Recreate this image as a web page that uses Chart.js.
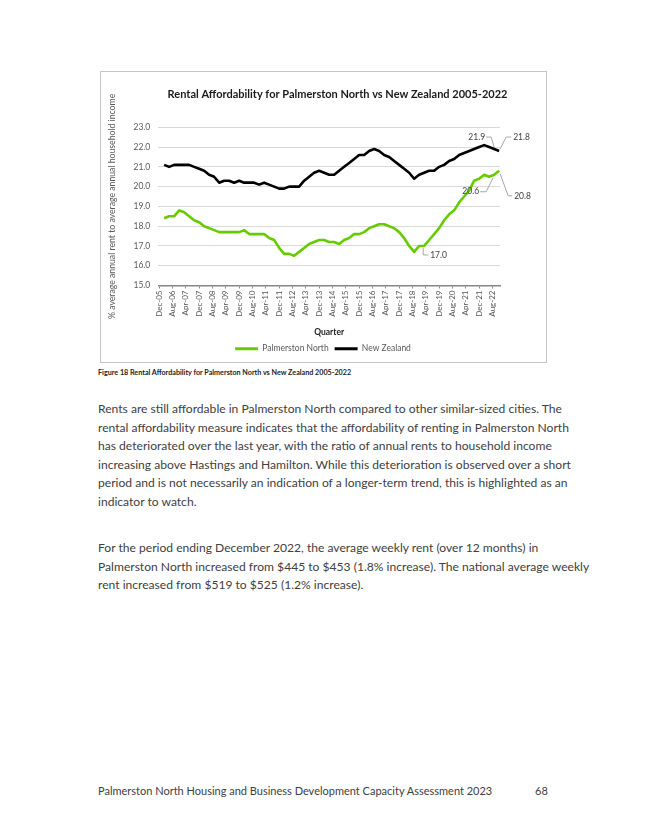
<!DOCTYPE html>
<html lang="en">
<head>
    <meta charset="UTF-8">
    <title>Rental Affordability for Palmerston North vs New Zealand 2005-2022</title>
    <script src="https://cdn.jsdelivr.net/npm/chart.js"></script>
    <style>
        html, body { margin: 0; padding: 0; background: #fff; }
        body { width: 645px; height: 834px; position: relative; overflow: hidden; font-family: Lato, "Open Sans", sans-serif; color: #404040; }
        #chartBox { position: absolute; left: 100px; top: 71px; width: 447px; height: 292px; box-sizing: border-box; border: 1px solid #c4c4c4; }
        #chartCanvas { position: absolute; left: 101px; top: 72px; }
        .caption { position: absolute; left: 98px; top: 368px; font-size: 7.2px; font-weight: bold; color: #222; white-space: nowrap; }
        .line { position: absolute; left: 98px; white-space: nowrap; font-size: 12.1px; line-height: 16px; }
        .footer { position: absolute; top: 782px; font-size: 11px; line-height: 18px; white-space: nowrap; }
    </style>
</head>
<body>
    <div id="chartBox"></div>
    <canvas id="chartCanvas" width="444" height="291"></canvas>

    <div class="caption">Figure 18 Rental Affordability for Palmerston North vs New Zealand 2005-2022</div>

    <div class="line" style="top:401px">Rents are still affordable in Palmerston North compared to other similar-sized cities. The</div>
    <div class="line" style="top:419.5px">rental affordability measure indicates that the affordability of renting in Palmerston North</div>
    <div class="line" style="top:438px">has deteriorated over the last year, with the ratio of annual rents to household income</div>
    <div class="line" style="top:456.5px">increasing above Hastings and Hamilton. While this deterioration is observed over a short</div>
    <div class="line" style="top:475px">period and is not necessarily an indication of a longer-term trend, this is highlighted as an</div>
    <div class="line" style="top:493.5px">indicator to watch.</div>

    <div class="line" style="top:540px">For the period ending December 2022, the average weekly rent (over 12 months) in</div>
    <div class="line" style="top:558.5px">Palmerston North increased from $445 to $453 (1.8% increase). The national average weekly</div>
    <div class="line" style="top:577px">rent increased from $519 to $525 (1.2% increase).</div>

    <div class="footer" style="left:98px">Palmerston North Housing and Business Development Capacity Assessment 2023</div>
    <div class="footer" style="left:535px">68</div>

    <script>
        // quarters shown on the chart (Mar-06 .. Dec-22)
        const quarterLabels = [
            'Mar-06', 'Jun-06', 'Sep-06', 'Dec-06', 'Mar-07', 'Jun-07', 'Sep-07', 'Dec-07',
            'Mar-08', 'Jun-08', 'Sep-08', 'Dec-08', 'Mar-09', 'Jun-09', 'Sep-09', 'Dec-09',
            'Mar-10', 'Jun-10', 'Sep-10', 'Dec-10', 'Mar-11', 'Jun-11', 'Sep-11', 'Dec-11',
            'Mar-12', 'Jun-12', 'Sep-12', 'Dec-12', 'Mar-13', 'Jun-13', 'Sep-13', 'Dec-13',
            'Mar-14', 'Jun-14', 'Sep-14', 'Dec-14', 'Mar-15', 'Jun-15', 'Sep-15', 'Dec-15',
            'Mar-16', 'Jun-16', 'Sep-16', 'Dec-16', 'Mar-17', 'Jun-17', 'Sep-17', 'Dec-17',
            'Mar-18', 'Jun-18', 'Sep-18', 'Dec-18', 'Mar-19', 'Jun-19', 'Sep-19', 'Dec-19',
            'Mar-20', 'Jun-20', 'Sep-20', 'Dec-20', 'Mar-21', 'Jun-21', 'Sep-21', 'Dec-21',
            'Mar-22', 'Jun-22', 'Sep-22', 'Dec-22'
        ];

        const palmerstonNorth = [
            18.4, 18.5, 18.5, 18.8, 18.7, 18.5, 18.3, 18.2, 18.0, 17.9,
            17.8, 17.7, 17.7, 17.7, 17.7, 17.7, 17.8, 17.6, 17.6, 17.6,
            17.6, 17.4, 17.3, 16.9, 16.6, 16.6, 16.5, 16.7, 16.9, 17.1,
            17.2, 17.3, 17.3, 17.2, 17.2, 17.1, 17.3, 17.4, 17.6, 17.6,
            17.7, 17.9, 18.0, 18.1, 18.1, 18.0, 17.9, 17.7, 17.4, 17.0,
            16.7, 17.0, 17.0, 17.3, 17.6, 17.9, 18.3, 18.6, 18.8, 19.2,
            19.5, 19.8, 20.3, 20.4, 20.6, 20.5, 20.6, 20.8
        ];

        const newZealand = [
            21.1, 21.0, 21.1, 21.1, 21.1, 21.1, 21.0, 20.9, 20.8, 20.6,
            20.5, 20.2, 20.3, 20.3, 20.2, 20.3, 20.2, 20.2, 20.2, 20.1,
            20.2, 20.1, 20.0, 19.9, 19.9, 20.0, 20.0, 20.0, 20.3, 20.5,
            20.7, 20.8, 20.7, 20.6, 20.6, 20.8, 21.0, 21.2, 21.4, 21.6,
            21.6, 21.8, 21.9, 21.8, 21.6, 21.5, 21.3, 21.1, 20.9, 20.7,
            20.4, 20.6, 20.7, 20.8, 20.8, 21.0, 21.1, 21.3, 21.4, 21.6,
            21.7, 21.8, 21.9, 22.0, 22.1, 22.0, 21.9, 21.8
        ];

        // date axis labels, one every 8 months
        const xTickLabels = [
            'Dec-05', 'Aug-06', 'Apr-07', 'Dec-07', 'Aug-08', 'Apr-09', 'Dec-09', 'Aug-10', 'Apr-11',
            'Dec-11', 'Aug-12', 'Apr-13', 'Dec-13', 'Aug-14', 'Apr-15', 'Dec-15', 'Aug-16', 'Apr-17',
            'Dec-17', 'Aug-18', 'Apr-19', 'Dec-19', 'Aug-20', 'Apr-21', 'Dec-21', 'Aug-22'
        ];
        const xFirst = 'Dec-05';
        const xLast = 'Dec-22';

        const monthNames = ['Jan', 'Feb', 'Mar', 'Apr', 'May', 'Jun', 'Jul', 'Aug', 'Sep', 'Oct', 'Nov', 'Dec'];

        // months since Dec-05
        function monthIndex(label) {
            const [mon, yy] = label.split('-');
            return (Number(yy) - 5) * 12 + monthNames.indexOf(mon) - 11;
        }

        function toPoints(values) {
            return values.map((v, i) => ({ x: monthIndex(quarterLabels[i]), y: v }));
        }

        const GREEN = '#66CC00';
        const BLACK = '#000000';
        const GREY_TEXT = '#595959';

        // chart title drawn over the plot, Excel puts it a little right of centre
        const titlePlugin = {
            id: 'excelTitle',
            afterDraw(chart) {
                const ctx = chart.ctx;
                ctx.save();
                ctx.font = 'bold 11px Lato';
                ctx.fillStyle = '#1a1a1a';
                ctx.textAlign = 'center';
                ctx.textBaseline = 'middle';
                ctx.fillText('Rental Affordability for Palmerston North vs New Zealand 2005-2022', 236.5, 22);
                ctx.restore();
            }
        };

        // data labels with leader lines, offsets relative to the point
        const leaderLabels = [
            { ds: 1, idx: 66, text: '21.9', align: 'right', tx: -9, ty: -12, path: [[-8, -12], [-3, -12], [0, -2]] },
            { ds: 1, idx: 67, text: '21.8', align: 'left', tx: 14, ty: -14, path: [[12, -14], [7, -14], [1, -2]] },
            { ds: 0, idx: 66, text: '20.6', align: 'right', tx: -15, ty: 17, path: [[-14, 17], [-8, 17], [-1, 3]] },
            { ds: 0, idx: 67, text: '20.8', align: 'left', tx: 15, ty: 25, path: [[13, 25], [9, 25], [1, 3]] },
            { ds: 0, idx: 52, text: '17.0', align: 'left', tx: 6, ty: 9, path: [[4, 9], [-1, 9], [-1, 2]] }
        ];

        const labelPlugin = {
            id: 'leaderLabels',
            afterDatasetsDraw(chart) {
                const ctx = chart.ctx;
                ctx.save();
                ctx.font = '8.5px Lato';
                ctx.textBaseline = 'middle';
                leaderLabels.forEach(l => {
                    const pt = chart.getDatasetMeta(l.ds).data[l.idx];
                    ctx.strokeStyle = '#a6a6a6';
                    ctx.lineWidth = 1;
                    ctx.beginPath();
                    l.path.forEach(([dx, dy], i) => {
                        if (i === 0) ctx.moveTo(pt.x + dx, pt.y + dy);
                        else ctx.lineTo(pt.x + dx, pt.y + dy);
                    });
                    ctx.stroke();
                    ctx.fillStyle = '#404040';
                    ctx.textAlign = l.align;
                    ctx.fillText(l.text, pt.x + l.tx, pt.y + l.ty);
                });
                ctx.restore();
            }
        };

        Chart.defaults.font.family = 'Lato';

        new Chart(document.getElementById('chartCanvas'), {
            type: 'line',
            data: {
                datasets: [
                    {
                        label: 'Palmerston North',
                        data: toPoints(palmerstonNorth),
                        borderColor: GREEN,
                        backgroundColor: GREEN,
                        borderWidth: 2.6,
                        pointRadius: 0,
                        tension: 0,
                        borderJoinStyle: 'round'
                    },
                    {
                        label: 'New Zealand',
                        data: toPoints(newZealand),
                        borderColor: BLACK,
                        backgroundColor: BLACK,
                        borderWidth: 2.6,
                        pointRadius: 0,
                        tension: 0,
                        borderJoinStyle: 'round'
                    }
                ]
            },
            options: {
                responsive: false,
                animation: false,
                layout: { padding: { top: 55.3, left: 0, right: 0, bottom: 0 } },
                plugins: {
                    title: { display: false },
                    tooltip: { enabled: false },
                    legend: {
                        position: 'bottom',
                        labels: {
                            boxWidth: 23,
                            boxHeight: 3,
                            padding: 6,
                            color: GREY_TEXT,
                            font: { size: 8.5 },
                            generateLabels: chart => chart.data.datasets.map((d, i) => ({
                                text: d.label,
                                fillStyle: d.borderColor,
                                strokeStyle: d.borderColor,
                                lineWidth: 0,
                                fontColor: GREY_TEXT,
                                hidden: false,
                                datasetIndex: i
                            }))
                        }
                    }
                },
                scales: {
                    x: {
                        type: 'linear',
                        min: monthIndex(xFirst) - 0.5,
                        max: monthIndex(xLast) + 0.5,
                        afterBuildTicks: scale => {
                            scale.ticks = xTickLabels.map(l => ({ value: monthIndex(l) }));
                        },
                        afterFit: scale => { scale.height = 53; },
                        ticks: {
                            autoSkip: false,
                            minRotation: 90,
                            maxRotation: 90,
                            padding: 2,
                            color: GREY_TEXT,
                            font: { size: 8 },
                            callback: (value, index) => xTickLabels[index]
                        },
                        grid: { drawOnChartArea: false, drawTicks: true, tickLength: 3, color: '#868686', lineWidth: 1 },
                        border: { display: true, color: '#868686', width: 1.5 },
                        title: {
                            display: true,
                            text: 'Quarter',
                            color: '#1a1a1a',
                            font: { size: 8.5, weight: 'bold' },
                            padding: { top: 0, bottom: 1 }
                        }
                    },
                    y: {
                        min: 15,
                        max: 23,
                        afterFit: scale => { scale.width = 57.3; },
                        ticks: {
                            stepSize: 1,
                            padding: 8,
                            color: GREY_TEXT,
                            font: { size: 8.5 },
                            callback: v => v.toFixed(1)
                        },
                        grid: { color: '#d9d9d9', lineWidth: 1, drawTicks: false },
                        border: { display: false },
                        title: {
                            display: true,
                            text: '% average annual rent to average annual household income',
                            color: GREY_TEXT,
                            font: { size: 8.7 },
                            padding: { top: 6, bottom: 0 }
                        }
                    },
                    // empty right axis only to keep the plot clear of the right edge
                    yRight: {
                        position: 'right',
                        display: true,
                        afterFit: scale => { scale.width = 45; },
                        ticks: { display: false },
                        grid: { display: false },
                        border: { display: false }
                    }
                }
            },
            plugins: [titlePlugin, labelPlugin]
        });
    </script>
</body>
</html>
